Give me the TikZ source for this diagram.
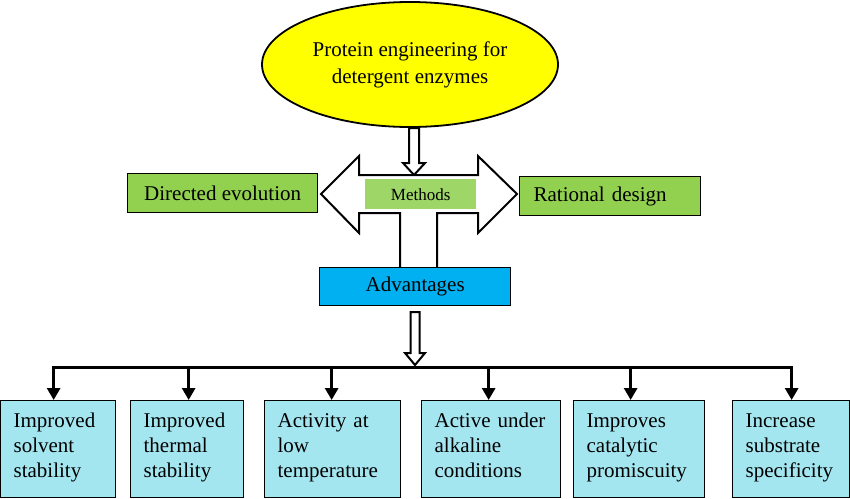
\documentclass[tikz,border=0pt]{standalone}
\usepackage{fontspec}
\setmainfont{Liberation Serif}
\usetikzlibrary{shapes.geometric,arrows.meta,calc}
\definecolor{ellyellow}{RGB}{255,255,0}
\definecolor{methgreen}{RGB}{146,208,80}
\definecolor{methlight}{RGB}{158,214,104}
\definecolor{advblue}{RGB}{0,176,240}
\definecolor{boxcyan}{RGB}{164,230,240}
\tikzset{
  outline/.style={draw=black,line width=2pt,fill=white,line join=miter},
  greenbox/.style={draw=black,line width=1.3pt,fill=methgreen,anchor=north west,
    font=\fontsize{21}{25}\selectfont,inner sep=0pt,minimum height=39pt},
  bottombox/.style={draw=black,line width=1.3pt,fill=boxcyan,anchor=north west,
    font=\fontsize{21}{25}\selectfont,inner xsep=13pt,inner ysep=0pt,
    minimum height=97pt,align=left,execute at end node={\strut}},
  busline/.style={line width=3pt},
  busarrow/.style={line width=3pt,-{Triangle[width=13pt,length=12pt]}},
}
\begin{document}
\begin{tikzpicture}[x=1pt,y=-1pt]
\useasboundingbox (0,0) rectangle (850,498);

% top ellipse
\node[ellipse,draw=black,line width=1.8pt,fill=ellyellow,minimum width=296pt,minimum height=125pt,
  font=\fontsize{21}{27}\selectfont,align=center,inner sep=0pt] (ell) at (410,64.5)
  {Protein engineering for\\detergent enzymes};

% hollow arrow from ellipse to methods
\draw[outline] (409,128) -- (419,128) -- (419,163) -- (425,163) -- (414,175) -- (403,163) -- (409,163) -- cycle;

% big double arrow with stem
\draw[outline] (321,194) -- (359,156) -- (359,175) -- (478,175) -- (478,156) -- (517,194)
  -- (478,233) -- (478,213) -- (437,213) -- (437,268) -- (400,268) -- (400,213)
  -- (359,213) -- (359,233) -- cycle;

% methods label
\node[fill=methlight,anchor=north west,minimum width=111pt,minimum height=30pt,inner sep=0pt,
  font=\fontsize{17}{20}\selectfont] (meth) at (365,179) {Methods};

% side boxes
\node[greenbox,minimum width=190pt] (dir) at (127,173) {Directed evolution};
\node[greenbox,minimum width=181pt,text width=153pt,inner xsep=14pt,align=left] (rat) at (519,176) {Rational design};

% advantages
\node[draw=black,line width=1.3pt,fill=advblue,anchor=north west,minimum width=191pt,
  minimum height=38pt,inner sep=0pt,font=\fontsize{21}{25}\selectfont] (adv) at (319,267) {Advantages};

% hollow arrow from advantages to bus
\draw[outline] (410.5,312) -- (419.5,312) -- (419.5,353) -- (425,353) -- (415,365) -- (405,353) -- (410.5,353) -- cycle;

% bottom boxes
\node[bottombox,minimum width=115pt,text width=89pt] (b1) at (0,400) {Improved\\solvent\\stability};
\node[bottombox,minimum width=113pt,text width=87pt] (b2) at (130,400) {Improved\\thermal\\stability};
\node[bottombox,minimum width=136pt,text width=110pt] (b3) at (264,400) {Activity at\\low\\temperature};
\node[bottombox,minimum width=139pt,text width=113pt] (b4) at (421,400) {Active under\\alkaline\\conditions};
\node[bottombox,minimum width=131pt,text width=105pt] (b5) at (573,400) {Improves\\catalytic\\promiscuity};
\node[bottombox,minimum width=117pt,text width=91pt] (b6) at (732,400) {Increase\\substrate\\specificity};

% bus
\coordinate (bus) at (0,367);
\coordinate (t1) at ([xshift=-4.5pt]b1.north);
\coordinate (t2) at ([xshift=1.5pt]b2.north);
\coordinate (t3) at ([xshift=-1pt]b3.north);
\coordinate (t4) at ([xshift=-2.5pt]b4.north);
\coordinate (t5) at ([xshift=-8.5pt]b5.north);
\coordinate (t6) at ([xshift=0.5pt]b6.north);
\draw[busline,line cap=rect] (t1 |- bus) -- (t6 |- bus);
\foreach \t in {t1,t2,t3,t4,t5,t6}
  \draw[busarrow] (\t |- bus) -- (\t);
\end{tikzpicture}
\end{document}
